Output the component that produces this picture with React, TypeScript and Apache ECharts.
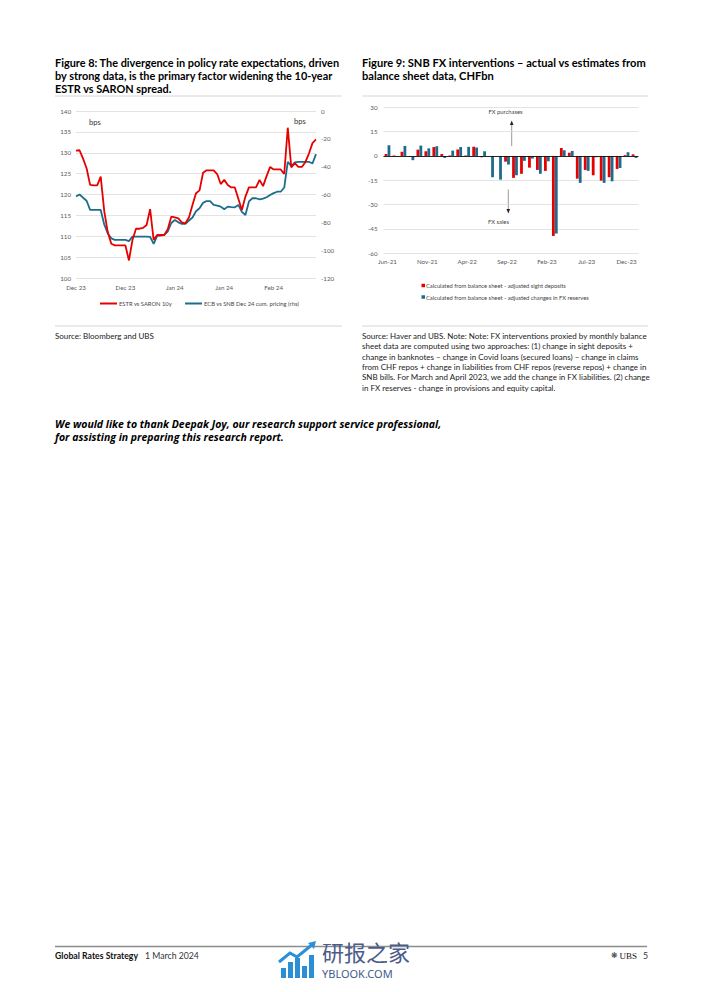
import React, { useEffect, useRef } from "react";
import * as echarts from "echarts";

// ---------- Figure 8 data ----------
const estrSaron10y = [
  130.5, 130.6, 128.6, 126.3, 122.3, 122.2, 122.2, 124.3, 116, 111,
  108.2, 107.8, 107.8, 107.8, 107.8, 104.2, 109.1, 111.8, 111.8, 112,
  112.7, 116.5, 109.1, 110.3, 110.3, 110.3, 111.7, 114.7, 114.5, 114.3,
  113.3, 113.1, 114.5, 117.5, 120.3, 121, 125.2, 125.8, 125.8, 125.8,
  124.9, 122.5, 123.5, 122.3, 121.7, 121.7, 119, 116.3, 119.5, 121.7,
  121.7, 121.7, 123.5, 122, 124.4, 126.6, 126, 126, 126, 124.9,
  136, 126.5, 127.5, 126.6, 126.6, 127.8, 129.8, 132.3, 133.2,
];
const ecbSnbDec24 = [
  -61.5, -60, -62.3, -64.5, -71.1, -71.1, -71.1, -71.1, -81.5, -88,
  -91.5, -92.6, -92.6, -92.6, -92.6, -93.5, -90.2, -90.2, -90.2, -90.2,
  -90.2, -90.5, -95.5, -89.7, -89.5, -89, -86.6, -80.5, -78.3, -80,
  -81.1, -81.1, -78.8, -76.5, -72, -69.9, -66, -64.7, -64.7, -67.5,
  -68, -68.7, -70.6, -68.7, -69, -69.2, -67.5, -72.5, -74.7, -65,
  -62.7, -62.7, -63.5, -63, -62, -60.4, -59, -58, -58, -55,
  -36.5, -39.6, -37, -36.5, -36.5, -36.5, -36.5, -37.7, -31,
];
const lineStartDate = [2023, 12, 14]; // first observation (y, m, d)
const monthNames = ["Jan", "Feb", "Mar", "Apr", "May", "Jun", "Jul", "Aug", "Sep", "Oct", "Nov", "Dec"];
const lineDates = estrSaron10y.map((_, i) => {
  const d = new Date(Date.UTC(lineStartDate[0], lineStartDate[1] - 1, lineStartDate[2] + i));
  return d.toISOString().slice(0, 10);
});

// ---------- Figure 9 data ----------
const fxMonths = [
  "Jun-21", "Jul-21", "Aug-21", "Sep-21", "Oct-21", "Nov-21", "Dec-21", "Jan-22",
  "Feb-22", "Mar-22", "Apr-22", "May-22", "Jun-22", "Jul-22", "Aug-22", "Sep-22",
  "Oct-22", "Nov-22", "Dec-22", "Jan-23", "Feb-23", "Mar-23", "Apr-23", "May-23",
  "Jun-23", "Jul-23", "Aug-23", "Sep-23", "Oct-23", "Nov-23", "Dec-23", "Jan-24",
];
const sightDeposits = [
  1.2, 0.3, 2.6, -0.5, 3.9, 2.9, 5.5, 1.2, 0.3, 4.0, 0.3, 5.7, -0.8, 0, 0, -3.5,
  -13.5, -11, -7.2, -8.6, -9.2, -49.3, 4.9, 2.0, -14, -8.6, -11.9, -15.2, -13.1, -8, 0.5, 1.0,
];
const fxReserves = [
  6.6, -0.3, 6.2, -2.6, 6.4, 4.7, 6.0, -1.2, 3.3, 5.5, 5.6, 5.2, 2.9, -13.1, -14.6, -5.3,
  -11.9, -3.0, -1.6, -11, -3.3, -47.8, 3.5, 3.1, -16.6, -9.2, -0.8, -16.6, -15.6, -7.4, 2.3, -1.2,
];

// ---------- Texts ----------
const title8 = [
  "Figure 8: The divergence in policy rate expectations, driven",
  "by strong data, is the primary factor widening the 10-year",
  "ESTR vs SARON spread.",
];
const title9 = [
  "Figure 9: SNB FX interventions \u2013 actual vs estimates from",
  "balance sheet data, CHFbn",
];
const source8 = "Source: Bloomberg and UBS";
const source9 = [
  "Source: Haver and UBS. Note: Note: FX interventions proxied by monthly balance",
  "sheet data are computed using two approaches: (1) change in sight deposits +",
  "change in banknotes \u2013 change in Covid loans (secured loans) \u2013 change in claims",
  "from CHF repos + change in liabilities from CHF repos (reverse repos) + change in",
  "SNB bills. For March and April 2023, we add the change in FX liabilities. (2) change",
  "in FX reserves - change in provisions and equity capital.",
];
const thanks = [
  "We would like to thank Deepak Joy, our research support service professional,",
  "for assisting in preparing this research report.",
];

const RED = "#e60000";
const BLUE = "#1d6c8c";
const GRID = "#dcdcdc";
const AX = "#595959";
const FONT = "Lato, 'Open Sans', sans-serif";

export default function App() {
  const ref = useRef<HTMLDivElement>(null);
  useEffect(() => {
    document.body.style.margin = "0";
    const chart = echarts.init(ref.current!, undefined, { renderer: "svg" });

    const txt = (x: number, y: number, text: string, o: any = {}) => ({
      type: "text",
      x,
      y,
      silent: true,
      style: {
        text,
        fill: o.fill || "#000",
        font: `${o.style || "normal"} ${o.weight || "normal"} ${o.size || 7}px ${o.family || FONT}`,
        textAlign: o.align || "left",
        textVerticalAlign: "middle",
        verticalAlign: "middle",
      },
    });
    const hline = (x1: number, x2: number, y: number, stroke = "#cccccc", w = 0.8) => ({
      type: "line",
      silent: true,
      shape: { x1, y1: y, x2, y2: y },
      style: { stroke, lineWidth: w },
    });

    const graphics: any[] = [];
    title8.forEach((t, i) => graphics.push(txt(55, 62 + i * 13, t, { size: 10.9, weight: "bold" })));
    title9.forEach((t, i) => graphics.push(txt(362, 62 + i * 13, t, { size: 11.1, weight: "bold" })));
    graphics.push(hline(55, 342, 96));
    graphics.push(hline(362, 648, 96));
    graphics.push(hline(55, 342, 326));
    graphics.push(hline(362, 648, 326));
    graphics.push(txt(89, 122, "bps", { size: 7.5, fill: "#333333" }));
    graphics.push(txt(294, 121, "bps", { size: 7.5, fill: "#333333" }));
    graphics.push(txt(55, 336, source8, { size: 8, fill: "#222222" }));
    source9.forEach((t, i) => graphics.push(txt(362, 336 + i * 10.3, t, { size: 8, fill: "#222222" })));
    thanks.forEach((t, i) =>
      graphics.push(txt(55, 424 + i * 13, t, { size: 10.5, weight: "bold", style: "italic", family: "'Open Sans', sans-serif" }))
    );
    // FX annotations
    graphics.push(txt(505.5, 111, "FX purchases", { size: 5.8, fill: "#444444", align: "center" }));
    graphics.push(txt(498.5, 221, "FX sales", { size: 5.8, fill: "#444444", align: "center" }));
    graphics.push({
      type: "line", silent: true,
      shape: { x1: 511.7, y1: 146, x2: 511.7, y2: 124 },
      style: { stroke: "#555", lineWidth: 0.6 },
    });
    graphics.push({
      type: "polygon", silent: true,
      shape: { points: [[509.9, 125], [513.5, 125], [511.7, 120.5]] },
      style: { fill: "#222" },
    });
    graphics.push({
      type: "line", silent: true,
      shape: { x1: 508.3, y1: 189.5, x2: 508.3, y2: 210 },
      style: { stroke: "#555", lineWidth: 0.6 },
    });
    graphics.push({
      type: "polygon", silent: true,
      shape: { points: [[506.5, 209], [510.1, 209], [508.3, 213.5]] },
      style: { fill: "#222" },
    });
    // Footer
    graphics.push(hline(55, 647, 946.5, "#8c8c8c", 1.4));
    graphics.push(txt(55, 955.5, "Global Rates Strategy", { size: 8.7, weight: "bold", fill: "#111111" }));
    graphics.push(txt(145, 955.5, "1 March 2024", { size: 8.7, fill: "#333333" }));
    graphics.push(txt(611, 955.5, "\u274B", { size: 8, fill: "#333333", family: "'DejaVu Sans'" }));
    graphics.push(txt(619.5, 955.5, "UBS", { size: 9, fill: "#111111", family: "'Liberation Serif', serif" }));
    graphics.push(txt(643, 955.5, "5", { size: 8.7, fill: "#333333" }));
    // watermark
    graphics.push(txt(322, 951, "研报之家", { size: 22, fill: "#4a5d8a", family: "'Noto Sans CJK SC'" }));
    graphics.push(txt(322, 973.5, "YBLOOK.COM", { size: 11, fill: "#3f5b8c", family: "'Noto Sans'" }));
    const logoBlue = "#2b8fd6";
    [[281, 968, 5, 10], [288, 962, 5, 16], [295, 958, 5, 20], [302, 966, 5, 12], [309, 955, 5, 23]].forEach(
      ([x, y, w, h]) =>
        graphics.push({ type: "rect", silent: true, shape: { x, y, width: w, height: h }, style: { fill: logoBlue } })
    );
    graphics.push({
      type: "polyline", silent: true,
      shape: { points: [[279, 962], [290, 953], [297, 957], [313, 944]] },
      style: { stroke: logoBlue, lineWidth: 3, fill: "none" },
    });
    graphics.push({
      type: "polygon", silent: true,
      shape: { points: [[308, 943], [316, 941], [314, 949]] },
      style: { fill: logoBlue },
    });

    const legendText = { fontSize: 5.8, color: "#444444", fontFamily: FONT };
    const option: any = {
      animation: false,
      textStyle: { fontFamily: FONT },
      graphic: { elements: graphics },
      legend: [
        { data: [{ name: "ESTR vs SARON 10y", icon: "rect" }], left: 100, top: 300.5, itemWidth: 17, itemHeight: 2, itemGap: 0, padding: 0, textStyle: { ...legendText, padding: [0, 0, 0, -3] }, selectedMode: false },
        { data: [{ name: "ECB vs SNB Dec 24 cum. pricing (rhs)", icon: "rect" }], left: 185, top: 300.5, itemWidth: 17, itemHeight: 2, padding: 0, textStyle: { ...legendText, padding: [0, 0, 0, -3] }, selectedMode: false },
        { data: [{ name: "Calculated from balance sheet - adjusted sight deposits", icon: "rect" }], left: 421.5, top: 282.5, itemWidth: 3.5, itemHeight: 3.5, padding: 0, textStyle: { ...legendText, padding: [0, 0, 0, -4] }, selectedMode: false },
        { data: [{ name: "Calculated from balance sheet - adjusted changes in FX reserves", icon: "rect" }], left: 421.5, top: 294, itemWidth: 3.5, itemHeight: 3.5, padding: 0, textStyle: { ...legendText, padding: [0, 0, 0, -4] }, selectedMode: false },
      ],
      grid: [
        { left: 76, top: 111, width: 240, height: 167 },
        { left: 383.5, top: 107.3, width: 255, height: 146 },
      ],
      xAxis: [
        {
          type: "category", gridIndex: 0, data: lineDates, boundaryGap: false,
          axisLine: { show: false }, axisTick: { show: false },
          axisLabel: {
            interval: 13, fontSize: 6.2, color: AX, margin: 6,
            formatter: (v: string) => monthNames[Number(v.slice(5, 7)) - 1] + " " + v.slice(2, 4),
          },
          splitLine: { show: false },
        },
        {
          type: "category", gridIndex: 1, data: fxMonths,
          axisLine: { show: false }, axisTick: { show: false },
          axisLabel: { interval: 4, fontSize: 6.2, color: AX, margin: 5 },
        },
      ],
      yAxis: [
        {
          type: "value", gridIndex: 0, min: 100, max: 140, interval: 5, position: "left",
          axisLine: { show: false }, axisTick: { show: false },
          axisLabel: { fontSize: 6.2, color: AX, margin: 5 },
          splitLine: { lineStyle: { color: GRID, width: 0.8 } },
        },
        {
          type: "value", gridIndex: 0, min: -120, max: 0, interval: 20, position: "right",
          axisLine: { show: false }, axisTick: { show: false },
          axisLabel: { fontSize: 6.2, color: AX, margin: 5 },
          splitLine: { show: false },
        },
        {
          type: "value", gridIndex: 1, min: -60, max: 30, interval: 15,
          axisLine: { show: false }, axisTick: { show: false },
          axisLabel: { fontSize: 6.2, color: AX, margin: 6 },
          splitLine: { lineStyle: { color: GRID, width: 0.8 } },
        },
      ],
      series: [
        {
          name: "ESTR vs SARON 10y", type: "line", xAxisIndex: 0, yAxisIndex: 0,
          data: estrSaron10y, symbol: "none", showSymbol: false,
          lineStyle: { color: RED, width: 1.8 }, itemStyle: { color: RED }, z: 3,
        },
        {
          name: "ECB vs SNB Dec 24 cum. pricing (rhs)", type: "line", xAxisIndex: 0, yAxisIndex: 1,
          data: ecbSnbDec24, symbol: "none", showSymbol: false,
          lineStyle: { color: BLUE, width: 1.8 }, itemStyle: { color: BLUE }, z: 2,
        },
        {
          name: "Calculated from balance sheet - adjusted sight deposits", type: "bar",
          xAxisIndex: 1, yAxisIndex: 2, data: sightDeposits,
          barWidth: 2.8, barGap: "5%", itemStyle: { color: RED },
          markLine: {
            silent: true, symbol: "none", label: { show: false },
            lineStyle: { color: "#111", width: 0.9, type: "solid" },
            data: [{ yAxis: 0 }],
          },
        },
        {
          name: "Calculated from balance sheet - adjusted changes in FX reserves", type: "bar",
          xAxisIndex: 1, yAxisIndex: 2, data: fxReserves,
          barWidth: 2.8, itemStyle: { color: BLUE },
        },
      ],
    };
    chart.setOption(option);
    return () => chart.dispose();
  }, []);
  return <div ref={ref} style={{ position: "absolute", left: 0, top: 0, width: 702, height: 992 }} />;
}
